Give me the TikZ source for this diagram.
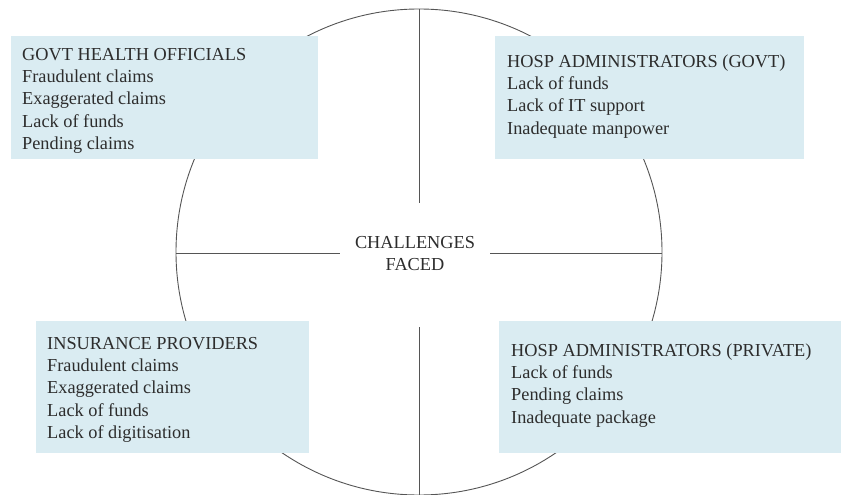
\documentclass[tikz,border=0pt]{standalone}
\usepackage{fontspec}
\setmainfont{Liberation Serif}
\definecolor{boxfill}{RGB}{218,236,242}
\definecolor{ink}{RGB}{45,45,45}
\definecolor{rim}{RGB}{85,85,85}
\begin{document}
\begin{tikzpicture}[x=1pt,y=-1pt,
  panel/.style={fill=boxfill, draw=none, inner sep=0pt, anchor=north west},
  label/.style={text=ink, font=\fontsize{18.3}{22.4}\selectfont, align=left,
    anchor=base west, inner sep=0pt},
  hubtext/.style={text=ink, font=\fontsize{18.3}{22}\selectfont, align=center,
    anchor=base, inner sep=0pt},
  rimline/.style={draw=rim, line width=0.9pt}]
\useasboundingbox (0,0) rectangle (841,495);

% central wheel and its four spokes
\coordinate (hub) at (419,252);
\draw[rimline] (hub) circle (243pt);
\coordinate (top)    at (419,9);
\coordinate (topin)  at (419,203);
\coordinate (bot)    at (419,495);
\coordinate (botin)  at (419,327);
\coordinate (left)   at (176,253);
\coordinate (leftin) at (340,253);
\coordinate (right)  at (662,253);
\coordinate (rightin) at (490,253);
\draw[rimline] (top) -- (topin);
\draw[rimline] (botin) -- (bot);
\draw[rimline] (left) -- (leftin);
\draw[rimline] (rightin) -- (right);

% the base anchor of a multi-line label sits on its last line
\node[hubtext] (centre) at (415,270) {CHALLENGES\\FACED};

% stakeholder panels
\node[panel, minimum width=307pt, minimum height=123pt] (govtbox) at (11,36) {};
\node[label] (govt) at (22,149.6)
  {GOVT HEALTH OFFICIALS\\Fraudulent claims\\Exaggerated claims\\Lack of funds\\Pending claims};

\node[panel, minimum width=309pt, minimum height=123pt] (hgbox) at (495,36) {};
\node[label] (hg) at (507,134.2)
  {HOSP ADMINISTRATORS (GOVT)\\Lack of funds\\Lack of IT support\\Inadequate manpower};

\node[panel, minimum width=273pt, minimum height=132pt] (insbox) at (36,321) {};
\node[label] (ins) at (47,438.6)
  {INSURANCE PROVIDERS\\Fraudulent claims\\Exaggerated claims\\Lack of funds\\Lack of digitisation};

\node[panel, minimum width=342pt, minimum height=132pt] (hpbox) at (499,321) {};
\node[label] (hp) at (511,423.2)
  {HOSP ADMINISTRATORS (PRIVATE)\\Lack of funds\\Pending claims\\Inadequate package};
\end{tikzpicture}
\end{document}
